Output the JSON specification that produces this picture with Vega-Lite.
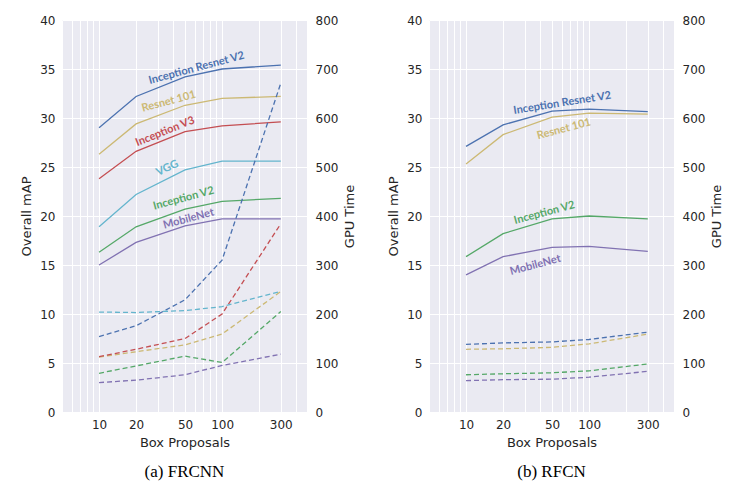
{
  "$schema": "https://vega.github.io/schema/vega-lite/v6.json",
  "padding": {"left": 20, "right": 5, "top": 14, "bottom": 5},
  "background": "white",
  "spacing": 30,
  "datasets": {
    "perf": [
      {"det": "FRCNN", "model": "Inception Resnet V2", "p": 10, "map": 29.0, "gpu": 154},
      {"det": "FRCNN", "model": "Inception Resnet V2", "p": 20, "map": 32.2, "gpu": 176},
      {"det": "FRCNN", "model": "Inception Resnet V2", "p": 50, "map": 34.2, "gpu": 229},
      {"det": "FRCNN", "model": "Inception Resnet V2", "p": 100, "map": 35.0, "gpu": 310},
      {"det": "FRCNN", "model": "Inception Resnet V2", "p": 300, "map": 35.4, "gpu": 671},
      {"det": "FRCNN", "model": "Resnet 101", "p": 10, "map": 26.3, "gpu": 112},
      {"det": "FRCNN", "model": "Resnet 101", "p": 20, "map": 29.4, "gpu": 123},
      {"det": "FRCNN", "model": "Resnet 101", "p": 50, "map": 31.3, "gpu": 137},
      {"det": "FRCNN", "model": "Resnet 101", "p": 100, "map": 32.0, "gpu": 159},
      {"det": "FRCNN", "model": "Resnet 101", "p": 300, "map": 32.2, "gpu": 246},
      {"det": "FRCNN", "model": "Inception V3", "p": 10, "map": 23.8, "gpu": 113},
      {"det": "FRCNN", "model": "Inception V3", "p": 20, "map": 26.6, "gpu": 128},
      {"det": "FRCNN", "model": "Inception V3", "p": 50, "map": 28.6, "gpu": 150},
      {"det": "FRCNN", "model": "Inception V3", "p": 100, "map": 29.2, "gpu": 200},
      {"det": "FRCNN", "model": "Inception V3", "p": 300, "map": 29.6, "gpu": 384},
      {"det": "FRCNN", "model": "VGG", "p": 10, "map": 18.9, "gpu": 204},
      {"det": "FRCNN", "model": "VGG", "p": 20, "map": 22.2, "gpu": 203},
      {"det": "FRCNN", "model": "VGG", "p": 50, "map": 24.7, "gpu": 207},
      {"det": "FRCNN", "model": "VGG", "p": 100, "map": 25.6, "gpu": 215},
      {"det": "FRCNN", "model": "VGG", "p": 300, "map": 25.6, "gpu": 246},
      {"det": "FRCNN", "model": "Inception V2", "p": 10, "map": 16.3, "gpu": 79},
      {"det": "FRCNN", "model": "Inception V2", "p": 20, "map": 18.9, "gpu": 94},
      {"det": "FRCNN", "model": "Inception V2", "p": 50, "map": 20.7, "gpu": 114},
      {"det": "FRCNN", "model": "Inception V2", "p": 100, "map": 21.5, "gpu": 101},
      {"det": "FRCNN", "model": "Inception V2", "p": 300, "map": 21.8, "gpu": 205},
      {"det": "FRCNN", "model": "MobileNet", "p": 10, "map": 15.0, "gpu": 60},
      {"det": "FRCNN", "model": "MobileNet", "p": 20, "map": 17.3, "gpu": 65},
      {"det": "FRCNN", "model": "MobileNet", "p": 50, "map": 19.0, "gpu": 76},
      {"det": "FRCNN", "model": "MobileNet", "p": 100, "map": 19.7, "gpu": 95},
      {"det": "FRCNN", "model": "MobileNet", "p": 300, "map": 19.7, "gpu": 118},
      {"det": "RFCN", "model": "Inception Resnet V2", "p": 10, "map": 27.1, "gpu": 138},
      {"det": "RFCN", "model": "Inception Resnet V2", "p": 20, "map": 29.3, "gpu": 141},
      {"det": "RFCN", "model": "Inception Resnet V2", "p": 50, "map": 30.7, "gpu": 143},
      {"det": "RFCN", "model": "Inception Resnet V2", "p": 100, "map": 30.9, "gpu": 148},
      {"det": "RFCN", "model": "Inception Resnet V2", "p": 300, "map": 30.65, "gpu": 163},
      {"det": "RFCN", "model": "Resnet 101", "p": 10, "map": 25.3, "gpu": 128},
      {"det": "RFCN", "model": "Resnet 101", "p": 20, "map": 28.3, "gpu": 129},
      {"det": "RFCN", "model": "Resnet 101", "p": 50, "map": 30.1, "gpu": 132},
      {"det": "RFCN", "model": "Resnet 101", "p": 100, "map": 30.5, "gpu": 139},
      {"det": "RFCN", "model": "Resnet 101", "p": 300, "map": 30.4, "gpu": 159},
      {"det": "RFCN", "model": "Inception V2", "p": 10, "map": 15.85, "gpu": 76},
      {"det": "RFCN", "model": "Inception V2", "p": 20, "map": 18.2, "gpu": 78},
      {"det": "RFCN", "model": "Inception V2", "p": 50, "map": 19.7, "gpu": 80},
      {"det": "RFCN", "model": "Inception V2", "p": 100, "map": 20.0, "gpu": 84},
      {"det": "RFCN", "model": "Inception V2", "p": 300, "map": 19.7, "gpu": 98},
      {"det": "RFCN", "model": "MobileNet", "p": 10, "map": 14.0, "gpu": 64},
      {"det": "RFCN", "model": "MobileNet", "p": 20, "map": 15.85, "gpu": 66},
      {"det": "RFCN", "model": "MobileNet", "p": 50, "map": 16.8, "gpu": 67},
      {"det": "RFCN", "model": "MobileNet", "p": 100, "map": 16.9, "gpu": 71},
      {"det": "RFCN", "model": "MobileNet", "p": 300, "map": 16.4, "gpu": 83}
    ],
    "labels": [
      {"det": "FRCNN", "model": "Inception Resnet V2", "x": 62, "y": 35.07},
      {"det": "FRCNN", "model": "Resnet 101", "x": 36.9, "y": 31.66},
      {"det": "FRCNN", "model": "Inception V3", "x": 34.5, "y": 28.6},
      {"det": "FRCNN", "model": "VGG", "x": 36, "y": 24.87},
      {"det": "FRCNN", "model": "Inception V2", "x": 48.7, "y": 21.77},
      {"det": "FRCNN", "model": "MobileNet", "x": 53.5, "y": 19.69},
      {"det": "RFCN", "model": "Inception Resnet V2", "x": 60.6, "y": 31.5},
      {"det": "RFCN", "model": "Resnet 101", "x": 62.5, "y": 28.85},
      {"det": "RFCN", "model": "Inception V2", "x": 43.4, "y": 20.3},
      {"det": "RFCN", "model": "MobileNet", "x": 36.6, "y": 14.97}
    ]
  },
  "hconcat": [
    {
      "width": 245,
      "height": 392,
      "title": {"text": "(a) FRCNN", "orient": "bottom", "frame": "group", "anchor": "middle", "font": "Liberation Serif", "fontSize": 17, "fontWeight": "normal", "color": "black", "offset": 15},
      "resolve": {"scale": {"y": "independent"}},
      "layer": [
        {
          "data": {"name": "perf"},
          "transform": [{"filter": "datum.det === 'FRCNN'"}],
          "mark": {"type": "line", "strokeWidth": 1.3},
          "encoding": {
            "x": {"field": "p", "type": "quantitative", "scale": {"type": "log", "domain": [5, 490], "nice": false},
              "axis": {"values": [5, 6, 7, 8, 9, 10, 20, 30, 40, 50, 60, 70, 80, 90, 100, 200, 300, 400], "format": "d", "labelExpr": "indexof([10,20,50,100,300], datum.value) >= 0 ? datum.label : ''", "grid": true, "title": "Box Proposals", "titlePadding": 6, "labelPadding": 7}},
            "y": {"field": "map", "type": "quantitative", "scale": {"domain": [0, 40]},
              "axis": {"orient": "left", "values": [0, 5, 10, 15, 20, 25, 30, 35, 40], "grid": true, "title": "Overall mAP", "titlePadding": 6}},
            "color": {"field": "model", "type": "nominal", "legend": null,
              "scale": {"domain": ["Inception Resnet V2", "Resnet 101", "Inception V3", "VGG", "Inception V2", "MobileNet"], "range": ["#4C72B0", "#CCB974", "#C44E52", "#64B5CD", "#55A868", "#8172B2"]}},
            "detail": {"field": "model"}
          }
        },
        {
          "data": {"name": "perf"},
          "transform": [{"filter": "datum.det === 'FRCNN'"}],
          "mark": {"type": "line", "strokeWidth": 1.3, "strokeDash": [5, 3]},
          "encoding": {
            "x": {"field": "p", "type": "quantitative"},
            "y": {"field": "gpu", "type": "quantitative", "scale": {"domain": [0, 800]},
              "axis": {"orient": "right", "values": [0, 100, 200, 300, 400, 500, 600, 700, 800], "grid": false, "title": "GPU Time", "titleAngle": 270, "titleBaseline": "top", "titlePadding": 6, "labelPadding": 8}},
            "color": {"field": "model", "type": "nominal", "legend": null},
            "detail": {"field": "model"}
          }
        },
        {
          "data": {"name": "labels"},
          "transform": [{"filter": "datum.det === 'FRCNN' && indexof(['Inception Resnet V2','Resnet 101','Inception V2','MobileNet'], datum.model) >= 0"}],
          "mark": {"type": "text", "font": "Lato", "fontWeight": "bold", "fontSize": 11, "angle": 345},
          "encoding": {
            "x": {"field": "x", "type": "quantitative"},
            "y": {"field": "y", "type": "quantitative", "scale": {"domain": [0, 40]}, "axis": null},
            "text": {"field": "model"},
            "color": {"field": "model", "type": "nominal", "legend": null}
          }
        },
        {
          "data": {"name": "labels"},
          "transform": [{"filter": "datum.det === 'FRCNN' && datum.model === 'Inception V3'"}],
          "mark": {"type": "text", "font": "Lato", "fontWeight": "bold", "fontSize": 11, "angle": 338},
          "encoding": {
            "x": {"field": "x", "type": "quantitative"},
            "y": {"field": "y", "type": "quantitative", "scale": {"domain": [0, 40]}, "axis": null},
            "text": {"field": "model"},
            "color": {"field": "model", "type": "nominal", "legend": null}
          }
        },
        {
          "data": {"name": "labels"},
          "transform": [{"filter": "datum.det === 'FRCNN' && datum.model === 'VGG'"}],
          "mark": {"type": "text", "font": "Lato", "fontWeight": "bold", "fontSize": 11, "angle": 335},
          "encoding": {
            "x": {"field": "x", "type": "quantitative"},
            "y": {"field": "y", "type": "quantitative", "scale": {"domain": [0, 40]}, "axis": null},
            "text": {"field": "model"},
            "color": {"field": "model", "type": "nominal", "legend": null}
          }
        }
      ]
    },
    {
      "width": 245,
      "height": 392,
      "title": {"text": "(b) RFCN", "orient": "bottom", "frame": "group", "anchor": "middle", "font": "Liberation Serif", "fontSize": 17, "fontWeight": "normal", "color": "black", "offset": 15},
      "resolve": {"scale": {"y": "independent"}},
      "layer": [
        {
          "data": {"name": "perf"},
          "transform": [{"filter": "datum.det === 'RFCN'"}],
          "mark": {"type": "line", "strokeWidth": 1.3},
          "encoding": {
            "x": {"field": "p", "type": "quantitative", "scale": {"type": "log", "domain": [5, 490], "nice": false},
              "axis": {"values": [5, 6, 7, 8, 9, 10, 20, 30, 40, 50, 60, 70, 80, 90, 100, 200, 300, 400], "format": "d", "labelExpr": "indexof([10,20,50,100,300], datum.value) >= 0 ? datum.label : ''", "grid": true, "title": "Box Proposals", "titlePadding": 6, "labelPadding": 7}},
            "y": {"field": "map", "type": "quantitative", "scale": {"domain": [0, 40]},
              "axis": {"orient": "left", "values": [0, 5, 10, 15, 20, 25, 30, 35, 40], "grid": true, "title": "Overall mAP", "titlePadding": 6}},
            "color": {"field": "model", "type": "nominal", "legend": null,
              "scale": {"domain": ["Inception Resnet V2", "Resnet 101", "Inception V3", "VGG", "Inception V2", "MobileNet"], "range": ["#4C72B0", "#CCB974", "#C44E52", "#64B5CD", "#55A868", "#8172B2"]}},
            "detail": {"field": "model"}
          }
        },
        {
          "data": {"name": "perf"},
          "transform": [{"filter": "datum.det === 'RFCN'"}],
          "mark": {"type": "line", "strokeWidth": 1.3, "strokeDash": [5, 3]},
          "encoding": {
            "x": {"field": "p", "type": "quantitative"},
            "y": {"field": "gpu", "type": "quantitative", "scale": {"domain": [0, 800]},
              "axis": {"orient": "right", "values": [0, 100, 200, 300, 400, 500, 600, 700, 800], "grid": false, "title": "GPU Time", "titleAngle": 270, "titleBaseline": "top", "titlePadding": 6, "labelPadding": 8}},
            "color": {"field": "model", "type": "nominal", "legend": null},
            "detail": {"field": "model"}
          }
        },
        {
          "data": {"name": "labels"},
          "transform": [{"filter": "datum.det === 'RFCN' && datum.model === 'Inception Resnet V2'"}],
          "mark": {"type": "text", "font": "Lato", "fontWeight": "bold", "fontSize": 11, "angle": 351},
          "encoding": {
            "x": {"field": "x", "type": "quantitative"},
            "y": {"field": "y", "type": "quantitative", "scale": {"domain": [0, 40]}, "axis": null},
            "text": {"field": "model"},
            "color": {"field": "model", "type": "nominal", "legend": null}
          }
        },
        {
          "data": {"name": "labels"},
          "transform": [{"filter": "datum.det === 'RFCN' && datum.model !== 'Inception Resnet V2'"}],
          "mark": {"type": "text", "font": "Lato", "fontWeight": "bold", "fontSize": 11, "angle": 345},
          "encoding": {
            "x": {"field": "x", "type": "quantitative"},
            "y": {"field": "y", "type": "quantitative", "scale": {"domain": [0, 40]}, "axis": null},
            "text": {"field": "model"},
            "color": {"field": "model", "type": "nominal", "legend": null}
          }
        }
      ]
    }
  ],
  "config": {
    "view": {"fill": "#EAEAF2", "stroke": null},
    "axis": {"labelFont": "DejaVu Sans", "titleFont": "DejaVu Sans", "labelFontSize": 12, "titleFontSize": 13, "titleFontWeight": "normal", "labelColor": "#262626", "titleColor": "#262626", "ticks": false, "domain": false, "gridColor": "white", "gridWidth": 1, "gridOpacity": 1, "labelPadding": 7}
  }
}
